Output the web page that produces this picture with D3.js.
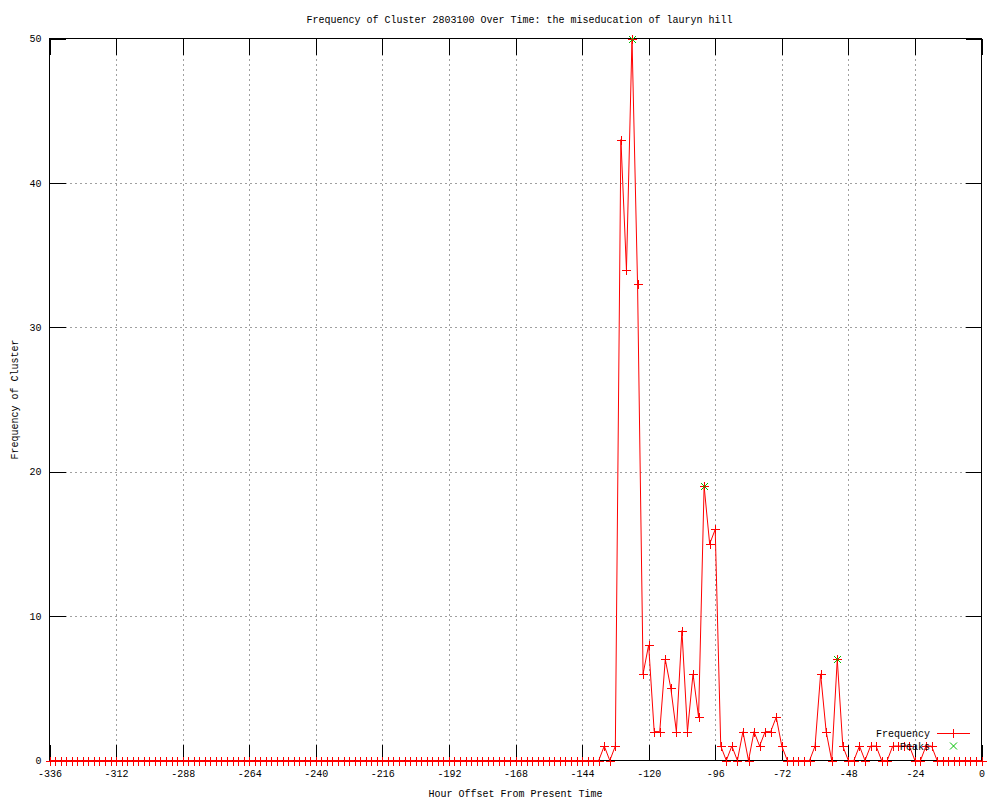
<!DOCTYPE html>
<html>
<head>
<meta charset="utf-8">
<script src="https://cdn.jsdelivr.net/npm/d3@7"></script>
<style>
  html, body { margin: 0; padding: 0; background: #fff; }
  svg { display: block; }
  text { font-family: "Liberation Mono", "DejaVu Sans Mono", monospace; font-size: 10px; fill: #000; }
</style>
</head>
<body>
<svg id="chart" width="1000" height="800"></svg>
<script>
// ---- data ----
const hours = [
  -336,-334,-332,-330,-328,-326,-324,-322,-320,-318,-316,-314,-312,-310,-308,-306,-304,-302,-300,-298,
  -296,-294,-292,-290,-288,-286,-284,-282,-280,-278,-276,-274,-272,-270,-268,-266,-264,-262,-260,-258,
  -256,-254,-252,-250,-248,-246,-244,-242,-240,-238,-236,-234,-232,-230,-228,-226,-224,-222,-220,-218,
  -216,-214,-212,-210,-208,-206,-204,-202,-200,-198,-196,-194,-192,-190,-188,-186,-184,-182,-180,-178,
  -176,-174,-172,-170,-168,-166,-164,-162,-160,-158,-156,-154,-152,-150,-148,-146,-144,-142,-140,-138,
  -136,-134,-132,-130,-128,-126,-124,-122,-120,-118,-116,-114,-112,-110,-108,-106,-104,-102,-100,-98,
  -96,-94,-92,-90,-88,-86,-84,-82,-80,-78,-76,-74,-72,-70,-68,-66,-64,-62,-60,-58,
  -56,-54,-52,-50,-48,-46,-44,-42,-40,-38,-36,-34,-32,-30,-28,-26,-24,-22,-20,-18,
  -16,-14,-12,-10,-8,-6,-4,-2,0
];
const frequency = [
  0,0,0,0,0,0,0,0,0,0,0,0,0,0,0,0,0,0,0,0,
  0,0,0,0,0,0,0,0,0,0,0,0,0,0,0,0,0,0,0,0,
  0,0,0,0,0,0,0,0,0,0,0,0,0,0,0,0,0,0,0,0,
  0,0,0,0,0,0,0,0,0,0,0,0,0,0,0,0,0,0,0,0,
  0,0,0,0,0,0,0,0,0,0,0,0,0,0,0,0,0,0,0,0,
  1,0,1,43,34,50,33,6,8,2,2,7,5,2,9,2,6,3,19,15,
  16,1,0,1,0,2,0,2,1,2,2,3,1,0,0,0,0,0,1,6,
  2,0,7,1,0,0,1,0,1,1,0,0,1,1,1,1,0,0,1,1,
  0,0,0,0,0,0,0,0,0
];
const peakHours = [-126, -100, -52];
const peakValues = [50, 19, 7];
const xTicks = [-336,-312,-288,-264,-240,-216,-192,-168,-144,-120,-96,-72,-48,-24,0];
const yTicks = [0,10,20,30,40,50];
const titleText = "Frequency of Cluster 2803100 Over Time: the miseducation of lauryn hill";
const xLabel = "Hour Offset From Present Time";
const yLabel = "Frequency of Cluster";
const legendNames = ["Frequency", "Peaks"];

// ---- layout ----
const L = 49.5, R = 981.5, T = 38.5, B = 760.5;
const svg = d3.select("#chart");
const x = d3.scaleLinear().domain([-336, 0]).range([L, R]);
const y = d3.scaleLinear().domain([0, 50]).range([B, T]);
const tickLen = 16;
const RED = "#ff0000", GREEN = "#00c000";

// grid
const grid = svg.append("g").attr("stroke", "#a0a0a0").attr("stroke-dasharray", "2,3")
  .attr("shape-rendering", "crispEdges");
xTicks.filter(t => t !== -336 && t !== 0).forEach(t => {
  grid.append("line").attr("x1", Math.round(x(t)) + 0.5).attr("x2", Math.round(x(t)) + 0.5)
    .attr("y1", T).attr("y2", B);
});
yTicks.filter(t => t !== 0 && t !== 50).forEach(t => {
  grid.append("line").attr("y1", Math.round(y(t)) + 0.5).attr("y2", Math.round(y(t)) + 0.5)
    .attr("x1", L).attr("x2", R);
});

// axes with D3 (labels)
const xAxis = d3.axisBottom(x).tickValues(xTicks).tickSize(0).tickPadding(8)
  .tickFormat(d => String(d));
const gx = svg.append("g").attr("transform", `translate(0,${B})`).call(xAxis);
gx.select(".domain").remove();
gx.selectAll("text").attr("font-size", null).attr("font-family", null).attr("dy", "0.71em").attr("y", 9);

const yAxis = d3.axisLeft(y).tickValues(yTicks).tickSize(0).tickPadding(8)
  .tickFormat(d => String(d));
const gy = svg.append("g").attr("transform", `translate(${L},0)`).call(yAxis);
gy.select(".domain").remove();
gy.selectAll("text").attr("font-size", null).attr("font-family", null);

// inward ticks on all four sides
const tk = svg.append("g").attr("stroke", "#000").attr("shape-rendering", "crispEdges");
xTicks.forEach(t => {
  const px = Math.round(x(t)) + 0.5;
  tk.append("line").attr("x1", px).attr("x2", px).attr("y1", B).attr("y2", B - tickLen);
  tk.append("line").attr("x1", px).attr("x2", px).attr("y1", T).attr("y2", T + tickLen);
});
yTicks.forEach(t => {
  const py = Math.round(y(t)) + 0.5;
  tk.append("line").attr("y1", py).attr("y2", py).attr("x1", L).attr("x2", L + tickLen);
  tk.append("line").attr("y1", py).attr("y2", py).attr("x1", R).attr("x2", R - tickLen);
});

// frame
svg.append("rect").attr("x", L).attr("y", T).attr("width", R - L).attr("height", B - T)
  .attr("fill", "none").attr("stroke", "#000").attr("shape-rendering", "crispEdges");

// data line
const pts = hours.map((h, i) => [h, frequency[i]]);
const line = d3.line().x(d => x(d[0])).y(d => y(d[1]));
svg.append("path").datum(pts).attr("d", line).attr("fill", "none")
  .attr("stroke", RED).attr("stroke-width", 1);

// plus markers
const ms = 4.5;
const plus = svg.append("g").attr("stroke", RED).attr("shape-rendering", "crispEdges");
pts.forEach(d => {
  const px = Math.round(x(d[0])) + 0.5, py = Math.round(y(d[1])) + 0.5;
  plus.append("line").attr("x1", px - ms).attr("x2", px + ms).attr("y1", py).attr("y2", py);
  plus.append("line").attr("x1", px).attr("x2", px).attr("y1", py - ms).attr("y2", py + ms);
});

// peaks (green x)
const xs = 3.5;
const pk = svg.append("g").attr("stroke", GREEN);
peakHours.forEach((h, i) => {
  const px = Math.round(x(h)) + 0.5, py = Math.round(y(peakValues[i])) + 0.5;
  pk.append("line").attr("x1", px - xs).attr("x2", px + xs).attr("y1", py - xs).attr("y2", py + xs);
  pk.append("line").attr("x1", px - xs).attr("x2", px + xs).attr("y1", py + xs).attr("y2", py - xs);
});

// legend
const lgx = 930, ly1 = 733.5, ly2 = 746;
svg.append("text").attr("x", lgx).attr("y", ly1).attr("dy", "0.35em").attr("text-anchor", "end").text(legendNames[0]);
svg.append("path").attr("d", `M937,${ly1}H970M953.5,${ly1 - ms}V${ly1 + ms}`)
  .attr("fill", "none").attr("stroke", RED).attr("stroke-width", 1);
svg.append("text").attr("x", lgx).attr("y", ly2).attr("dy", "0.35em").attr("text-anchor", "end").text(legendNames[1]);
svg.append("path")
  .attr("d", `M${953.5 - xs},${ly2 - xs}L${953.5 + xs},${ly2 + xs}M${953.5 - xs},${ly2 + xs}L${953.5 + xs},${ly2 - xs}`)
  .attr("fill", "none").attr("stroke", GREEN).attr("stroke-width", 1);

// titles
svg.append("text").attr("x", (L + R) / 2 + 4).attr("y", 19).attr("dy", "0.35em")
  .attr("text-anchor", "middle").text(titleText);
svg.append("text").attr("x", (L + R) / 2).attr("y", 793).attr("dy", "0.35em")
  .attr("text-anchor", "middle").text(xLabel);
svg.append("text").attr("transform", `translate(14,${(T + B) / 2}) rotate(-90)`)
  .attr("dy", "0.35em").attr("text-anchor", "middle").text(yLabel);
</script>
</body>
</html>
